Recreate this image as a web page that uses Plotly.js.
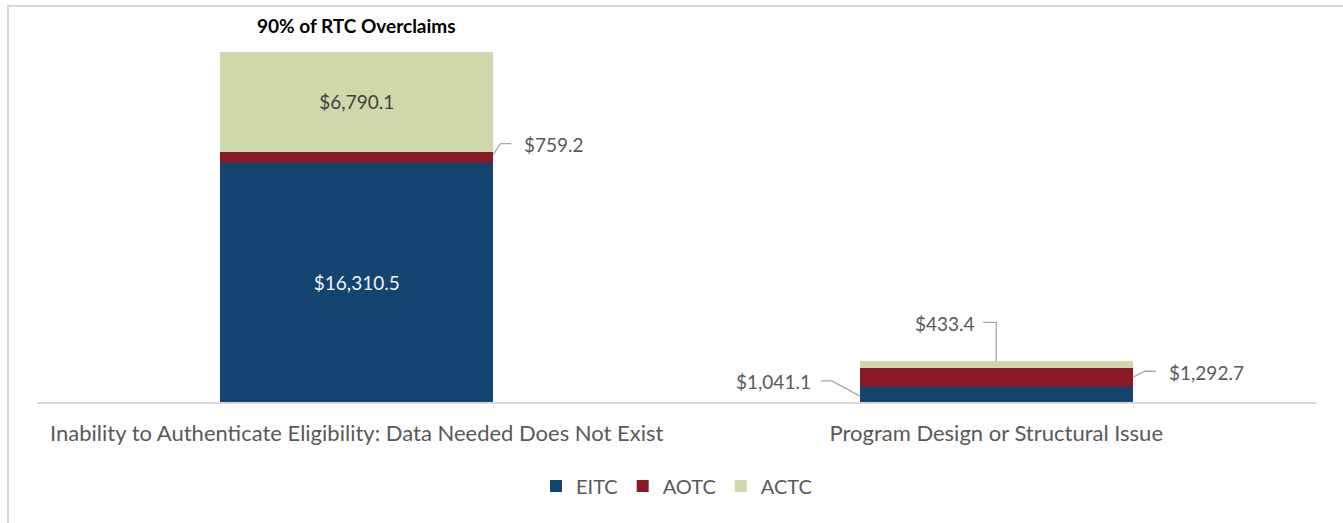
<!DOCTYPE html>
<html>
<head>
<meta charset="utf-8">
<script src="https://cdn.plot.ly/plotly-3.0.1.min.js"></script>
<style>
  html, body { margin: 0; padding: 0; background: #fff; }
  #chart { width: 1343px; height: 523px; position: absolute; left: 0; top: 0; }
  #frame { position: absolute; left: 7px; top: 5px; width: 1400px; height: 600px;
           border-left: 2px solid #D9D9D9; border-top: 2px solid #D9D9D9; pointer-events: none; }
</style>
</head>
<body>
<div id="chart"></div>
<div id="frame"></div>
<script>
const categories = [
  "Inability to Authenticate Eligibility: Data Needed Does Not Exist",
  "Program Design or Structural Issue"
];
const eitc = [16310.5, 1041.1];
const aotc = [759.2, 1292.7];
const actc = [6790.1, 433.4];
const seriesNames = ["EITC", "AOTC", "ACTC"];
const colors = ["#13436F", "#8B1A28", "#CFD8AB"];
const topLabel = "90% of RTC Overclaims";

const FONT = "Lato, 'Open Sans', sans-serif";
const GREY = "#595959";
const BW = 0.427;

function fmt(v) {
  return "$" + v.toLocaleString("en-US", {minimumFractionDigits: 1, maximumFractionDigits: 1});
}

const totals = categories.map((c, i) => eitc[i] + aotc[i] + actc[i]);

const traces = [
  {name: seriesNames[0], y: eitc, color: colors[0], text: [fmt(eitc[0]), ""], tc: "#F2F2F2"},
  {name: seriesNames[1], y: aotc, color: colors[1], text: ["", ""], tc: "#FFFFFF"},
  {name: seriesNames[2], y: actc, color: colors[2], text: [fmt(actc[0]), ""], tc: "#404040"}
].map(s => ({
  type: "bar",
  name: s.name,
  x: categories.map((c, i) => i),
  y: s.y,
  width: BW,
  marker: {color: s.color, line: {width: 0}},
  text: s.text,
  textposition: "inside",
  insidetextanchor: "middle",
  textangle: 0,
  insidetextfont: {family: FONT, size: 19, color: s.tc},
  hoverinfo: "skip"
}));

const halfW = BW / 2;
const annFont = {family: FONT, size: 19, color: GREY};
const lineStyle = {color: "#A6A6A6", width: 1.3};

const annotations = [
  {x: 0, y: totals[0], xref: "x", yref: "y", text: "<b>" + topLabel + "</b>", showarrow: false,
   yshift: 27, font: {family: FONT, size: 19, color: "#000000"}},
  {x: halfW, y: eitc[0] + aotc[0] / 2, xref: "x", yref: "y", text: fmt(aotc[0]), showarrow: false,
   xanchor: "left", xshift: 29, yshift: 12.5, font: annFont},
  {x: 1, y: totals[1], xref: "x", yref: "y", text: fmt(actc[1]), showarrow: false,
   xanchor: "right", xshift: -19, yshift: 38, font: annFont},
  {x: -halfW + 1, y: eitc[1] / 2, xref: "x", yref: "y", text: fmt(eitc[1]), showarrow: false,
   xanchor: "right", xshift: -47, yshift: 12.5, font: annFont},
  {x: 1 + halfW, y: eitc[1] + aotc[1] / 2, xref: "x", yref: "y", text: fmt(aotc[1]), showarrow: false,
   xanchor: "left", xshift: 34, yshift: 5, font: annFont}
];

function leader(xa, ya, path) {
  return {type: "path", xref: "x", yref: "y", xsizemode: "pixel", ysizemode: "pixel",
          xanchor: xa, yanchor: ya, path: path, line: lineStyle, layer: "above"};
}

const shapes = [
  leader(halfW, eitc[0] + aotc[0] / 2, "M0,2.5L7,13.5L18,13.5"),
  leader(1, totals[1], "M0,0L0,39L-13,39"),
  leader(1 - halfW, eitc[1] / 2, "M0,-1.5L-28,13.5L-39,13.5"),
  leader(1 + halfW, eitc[1] + aotc[1] / 2, "M0,0L12,6L23,6")
];

const layout = {
  width: 1343, height: 523,
  margin: {l: 37, r: 27, t: 52, b: 121, pad: 0},
  paper_bgcolor: "#FFFFFF", plot_bgcolor: "#FFFFFF",
  barmode: "stack",
  showlegend: true,
  legend: {orientation: "h", x: 0.5, xanchor: "center", y: -0.24, yanchor: "middle",
           font: {family: FONT, size: 20, color: GREY}, traceorder: "normal"},
  xaxis: {
    type: "linear",
    range: [-0.5, 1.5],
    tickvals: categories.map((c, i) => i),
    ticktext: categories,
    showgrid: false, zeroline: false,
    showline: true, linecolor: "#D9D9D9", linewidth: 1.5,
    ticks: "", ticklabelstandoff: 11,
    tickfont: {family: FONT, size: 22, color: GREY},
    fixedrange: true
  },
  yaxis: {
    range: [0, totals[0]],
    visible: false, showgrid: false, zeroline: false, fixedrange: true
  },
  annotations: annotations,
  shapes: shapes,
  font: {family: FONT}
};

Plotly.newPlot("chart", traces, layout, {staticPlot: true, displayModeBar: false});
</script>
</body>
</html>
